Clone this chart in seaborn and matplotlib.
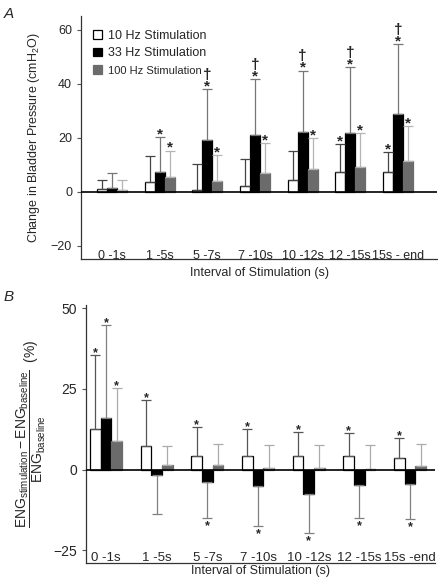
import numpy as np
import pandas as pd
import seaborn as sns
import matplotlib.pyplot as plt
from matplotlib.container import BarContainer

sns.set_style('ticks')
plt.rcParams['font.family'] = ['Liberation Sans', 'DejaVu Sans']
plt.rcParams['mathtext.fontset'] = 'custom'
plt.rcParams['mathtext.rm'] = 'Liberation Sans'
plt.rcParams['mathtext.it'] = 'Liberation Sans:italic'

# --- data ---
intervals_a = ['0 -1s', '1 -5s', '5 -7s', '7 -10s', '10 -12s', '12 -15s', '15s - end']
intervals_b = ['0 -1s', '1 -5s', '5 -7s', '7 -10s', '10 -12s', '12 -15s', '15s -end']
freqs = ['10 Hz', '33 Hz', '100 Hz']
legend_labels = ['10 Hz Stimulation', '33 Hz Stimulation', '100 Hz Stimulation']

# panel A: change in bladder pressure (cmH2O), mean and SD
pres_10 = [1.0, 3.5, 0.6, 2.1, 4.4, 7.2, 7.2]
pres_10_sd = [3.2, 9.6, 9.6, 10.0, 10.8, 10.5, 7.5]
pres_33 = [1.5, 7.3, 19.1, 21.1, 22.0, 21.7, 28.9]
pres_33_sd = [5.3, 12.8, 18.8, 20.5, 22.9, 24.5, 25.8]
pres_100 = [0.8, 5.4, 4.1, 6.9, 8.3, 9.0, 11.4]
pres_100_sd = [3.5, 9.8, 9.4, 11.0, 11.5, 12.6, 12.8]
star_a_10 = [0, 0, 0, 0, 0, 1, 1]
star_a_33 = [0, 1, 1, 1, 1, 1, 1]
star_a_100 = [0, 1, 1, 1, 1, 1, 1]
dagger_a_33 = [0, 0, 1, 1, 1, 1, 1]

# panel B: ENG change (%), mean and SD
eng_10 = [12.6, 7.3, 4.3, 4.3, 4.3, 4.1, 3.6]
eng_10_sd = [22.8, 14.4, 8.8, 8.2, 7.5, 7.2, 6.2]
eng_33 = [16.0, -1.8, -3.7, -5.1, -7.6, -4.8, -4.5]
eng_33_sd = [28.8, 12.0, 11.2, 12.5, 12.2, 10.1, 10.9]
eng_100 = [8.9, 1.5, 1.4, 0.4, 0.4, 0.2, 1.2]
eng_100_sd = [16.5, 5.7, 6.5, 7.2, 7.2, 7.4, 6.7]
star_b_10 = [1, 1, 1, 1, 1, 1, 1]
star_b_33 = [1, 0, 1, 1, 1, 1, 1]
star_b_100 = [1, 0, 0, 0, 0, 0, 0]

face = ['white', 'black', '#6b6b6b']
edge = ['black', 'black', '#6b6b6b']


def long_df(intervals, series):
    rows = []
    for f, vals in zip(freqs, series):
        for iv, v in zip(intervals, vals):
            rows.append({'interval': iv, 'freq': f, 'value': v})
    return pd.DataFrame(rows)


def draw_panel(ax, intervals, means, sds, stars, daggers, err_cols, star_size, fs):
    df = long_df(intervals, means)
    sns.barplot(data=df, x='interval', y='value', hue='freq', hue_order=freqs,
                palette=face, errorbar=None, width=0.63, legend=False, ax=ax)
    bars = [c for c in ax.containers if isinstance(c, BarContainer)]
    for i, cont in enumerate(bars):
        for p in cont:
            p.set_facecolor(face[i])
            p.set_edgecolor(edge[i])
            p.set_linewidth(0.9)
        xs = np.array([p.get_x() + p.get_width() / 2 for p in cont])
        m = np.array(means[i])
        s = np.array(sds[i])
        sign = np.where(m >= 0, 1, -1)
        lower = np.where(sign < 0, s, 0)
        upper = np.where(sign > 0, s, 0)
        ax.errorbar(xs, m, yerr=[lower, upper], fmt='none', ecolor=err_cols[i],
                    elinewidth=0.9, capsize=3.6, capthick=0.9, zorder=1)
        ends = m + sign * s
        for k in range(len(xs)):
            if not stars[i][k]:
                continue
            if sign[k] > 0:
                # dagger (if any) stacked on top of the star in one text
                label = '\u2020\n*' if daggers[i][k] else '*'
                ax.annotate(label, (xs[k], ends[k]), xytext=(0, -3), textcoords='offset points',
                            ha='center', va='bottom', fontsize=star_size, fontweight='bold',
                            linespacing=0.75, multialignment='center')
            else:
                ax.annotate('*', (xs[k], ends[k]), xytext=(0, -1.5), textcoords='offset points',
                            ha='center', va='top', fontsize=star_size, fontweight='bold')
    ax.axhline(0, color='black', lw=1.2, zorder=3)
    sns.despine(ax=ax)
    ax.tick_params(axis='y', length=3, width=0.8, labelsize=fs, color='#555555')
    for sp in ['left', 'bottom']:
        ax.spines[sp].set_linewidth(0.9)
        ax.spines[sp].set_color('#333333')


fig = plt.figure(figsize=(4.38, 5.8), dpi=100)
ax_a = fig.add_axes([0.185, 0.553, 0.813, 0.419])
ax_b = fig.add_axes([0.196, 0.029, 0.797, 0.445])

no_flags = [0] * 7
draw_panel(ax_a, intervals_a, [pres_10, pres_33, pres_100], [pres_10_sd, pres_33_sd, pres_100_sd],
           [star_a_10, star_a_33, star_a_100], [no_flags, dagger_a_33, no_flags],
           ['#444444', '#777777', '#b5b5b5'], 11, 9)
ax_a.tick_params(axis='x', length=0, pad=-7, labelsize=9)
ax_a.set_xlim(-0.65, 6.82)
ax_a.set_ylim(-25, 65)
ax_a.set_yticks([-20, 0, 20, 40, 60])
ax_a.set_xlabel('Interval of Stimulation (s)', fontsize=9, labelpad=4)
ax_a.set_ylabel('Change in Bladder Pressure (cmH$_2$O)', fontsize=9, labelpad=6)
handles = [plt.Rectangle((0, 0), 1, 1, facecolor=face[i], edgecolor=edge[i], lw=0.9) for i in range(3)]
leg = ax_a.legend(handles, legend_labels, loc='upper left', bbox_to_anchor=(0.02, 0.965),
                  frameon=False, borderaxespad=0, fontsize=9, handlelength=0.7, handleheight=0.7,
                  handletextpad=0.5, labelspacing=0.45)
leg.get_texts()[2].set_fontsize(8)

draw_panel(ax_b, intervals_b, [eng_10, eng_33, eng_100], [eng_10_sd, eng_33_sd, eng_100_sd],
           [star_b_10, star_b_33, star_b_100], [no_flags] * 3,
           ['#555555', '#808080', '#ababab'], 9, 10)
ax_b.tick_params(axis='x', length=0, pad=-8, labelsize=9.5)
ax_b.set_xlim(-0.4, 6.49)
ax_b.set_ylim(-29, 51)
ax_b.set_yticks([-25, 0, 25, 50])
ax_b.set_xlabel('Interval of Stimulation (s)', fontsize=9, labelpad=1)
ax_b.set_ylabel(r'$\dfrac{\mathrm{ENG_{stimulation} - ENG_{baseline}}}{\mathrm{ENG_{baseline}}}$  (%)',
                fontsize=10, labelpad=4)

fig.text(0.008, 0.975, 'A', fontsize=11, fontstyle='italic', va='center')
fig.text(0.008, 0.488, 'B', fontsize=11, fontstyle='italic', va='center')

fig.savefig('out.png', dpi=100)
